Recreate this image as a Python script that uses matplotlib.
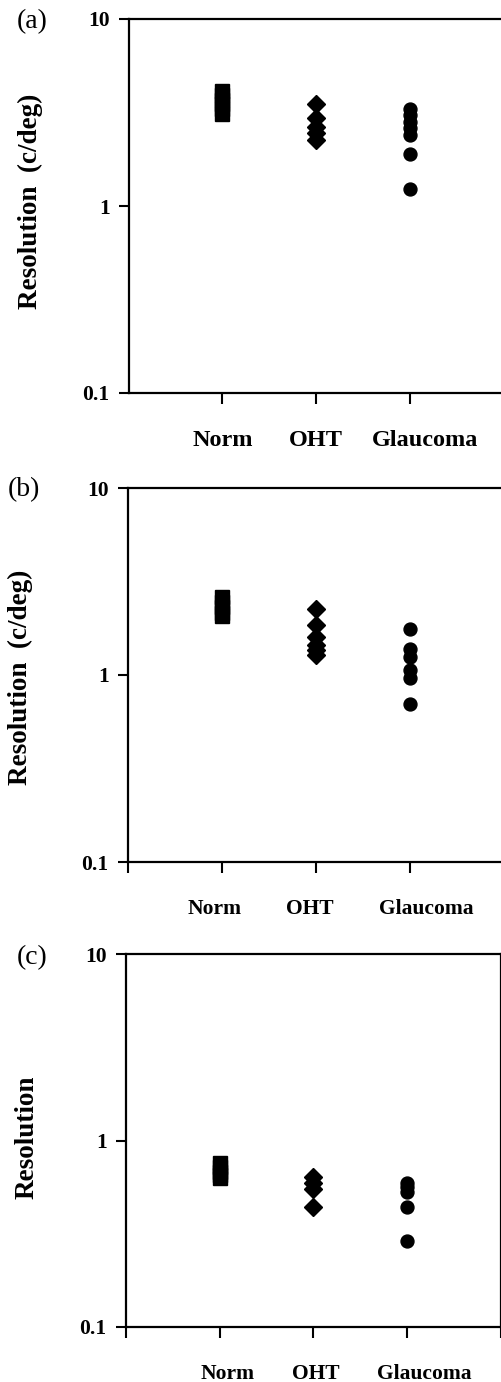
import matplotlib
matplotlib.use("Agg")
import matplotlib.pyplot as plt

# resolution values (log axis)
groups = ["Norm", "OHT", "Glaucoma"]

norm_a = [4.1, 3.9, 3.7, 3.5, 3.3, 3.12]
oht_a = [3.5, 2.95, 2.65, 2.45, 2.25]
glau_a = [3.3, 3.05, 2.8, 2.6, 2.4, 1.9, 1.23]

norm_b = [2.6, 2.45, 2.3, 2.15, 2.06]
oht_b = [2.25, 1.85, 1.6, 1.45, 1.36, 1.28]
glau_b = [1.77, 1.37, 1.25, 1.06, 0.96, 0.70]

norm_c = [0.76, 0.72, 0.68, 0.65, 0.63]
oht_c = [0.64, 0.59, 0.55, 0.44]
glau_c = [0.59, 0.56, 0.53, 0.44, 0.29]

panel_labels = ["(a)", "(b)", "(c)"]
ylabels = ["Resolution  (c/deg)", "Resolution  (c/deg)", "Resolution"]
yticks = [0.1, 1, 10]
ytick_labels = ["0.1", "1", "10"]

W, H = 502, 1382
fig = plt.figure(figsize=(W / 100, H / 100), dpi=100)
serif = "Liberation Serif"

# axes boxes in pixels: left, top, right, bottom
boxes = [(129, 19, 503, 393), (128, 488, 504, 862), (126, 954, 501, 1327)]
# label placements (pixels)
panel_pos = [(32, 22), (24, 490), (32, 958)]
ylab_pos = [(30, 201), (20, 677), (27, 1137)]
# category label x positions (data units) and font size per panel
cat_x = [[1.0, 2.0, 3.17], [0.92, 1.93, 3.17], [1.08, 2.02, 3.18]]
cat_fs = [17.5, 15.5, 15.5]
xtick_sets = [[1, 2, 3], [0, 1, 2, 3, 4], [0, 1, 2, 3, 4]]

data = [(norm_a, oht_a, glau_a), (norm_b, oht_b, glau_b), (norm_c, oht_c, glau_c)]

for i, (l, t, r, b) in enumerate(boxes):
    ax = fig.add_axes([l / W, 1 - b / H, (r - l) / W, (b - t) / H])
    norm, oht, glau = data[i]
    ax.plot([1] * len(norm), norm, "s", color="black", markersize=10, linestyle="none")
    ax.plot([2] * len(oht), oht, "D", color="black", markersize=9.6, linestyle="none")
    ax.plot([3] * len(glau), glau, "o", color="black", markersize=9.3, linestyle="none")

    ax.set_yscale("log")
    ax.set_ylim(0.1, 10)
    ax.set_xlim(0, 4)
    ax.set_yticks(yticks)
    ax.set_yticklabels(ytick_labels, fontfamily=serif, fontweight="bold", fontsize=15.5)
    ax.minorticks_off()
    ax.set_xticks(xtick_sets[i])
    ax.set_xticklabels([])
    ax.tick_params(axis="y", direction="out", length=7, width=1.5, pad=7)
    ax.tick_params(axis="x", direction="out", length=8, width=1.5)
    for s in ax.spines.values():
        s.set_linewidth(1.6)

    for x, name in zip(cat_x[i], groups):
        ax.text(x, -0.127, name, transform=ax.get_xaxis_transform(), ha="center", va="center",
                fontfamily=serif, fontweight="bold", fontsize=cat_fs[i])

    px, py = panel_pos[i]
    fig.text(px / W, 1 - py / H, panel_labels[i], ha="center", va="center",
             fontfamily=serif, fontsize=20)
    yx, yy = ylab_pos[i]
    fig.text(yx / W, 1 - yy / H, ylabels[i], ha="center", va="center", rotation=90,
             fontfamily=serif, fontweight="bold", fontsize=19.5)

fig.savefig("out.png", dpi=100)
